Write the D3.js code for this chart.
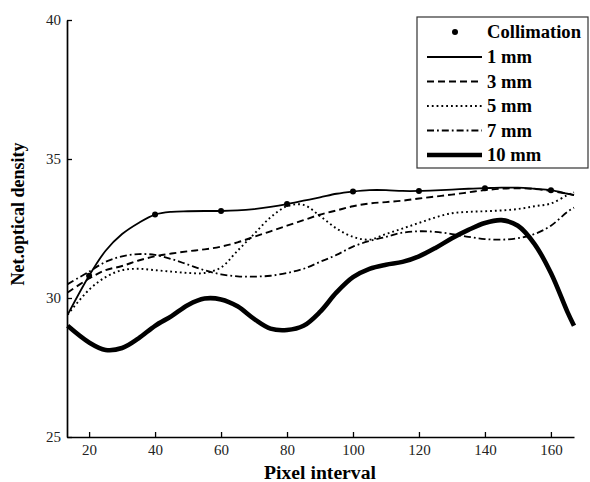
<!DOCTYPE html>
<html>
<head>
<meta charset="utf-8">
<script src="https://cdn.jsdelivr.net/npm/d3@7"></script>
<style>
  body { margin: 0; background: #fff; }
  .tick text { font-family: "Liberation Serif", serif; font-size: 15px; fill: #222; }
  .axisText { font-family: "Liberation Serif", serif; font-weight: bold; font-size: 18px; fill: #000; }
  .legendText { font-family: "Liberation Serif", serif; font-weight: bold; font-size: 18.6px; fill: #000; }
</style>
</head>
<body>
<div id="chart"></div>
<script>
// data
var pixelX = [13.5, 20, 25, 30, 35, 40, 45, 50, 55, 60, 65, 70, 75, 80, 85, 90, 95, 100,
              105, 110, 115, 120, 125, 130, 135, 140, 145, 150, 155, 160, 165, 167];

var mm1 = [29.4, 30.8, 31.7, 32.3, 32.7, 33.0, 33.1, 33.12, 33.13, 33.13, 33.15, 33.2, 33.28, 33.38, 33.5, 33.62, 33.75, 33.83,
           33.88, 33.88, 33.85, 33.85, 33.87, 33.9, 33.93, 33.95, 33.97, 33.97, 33.93, 33.88, 33.75, 33.7];
var mm3 = [30.2, 30.7, 31.0, 31.15, 31.35, 31.5, 31.6, 31.68, 31.75, 31.85, 32.0, 32.2, 32.4, 32.6, 32.8, 33.0, 33.15, 33.3,
           33.4, 33.45, 33.5, 33.58, 33.65, 33.72, 33.8, 33.88, 33.93, 33.95, 33.92, 33.85, 33.75, 33.7];
var mm5 = [29.4, 30.3, 30.75, 31.0, 31.05, 31.0, 30.95, 30.9, 30.9, 31.1, 31.7, 32.3, 32.9, 33.3, 33.35, 32.95, 32.5, 32.2,
           32.1, 32.3, 32.5, 32.7, 32.9, 33.05, 33.1, 33.12, 33.15, 33.2, 33.3, 33.4, 33.7, 33.8];
var mm7 = [30.5, 30.95, 31.3, 31.5, 31.58, 31.55, 31.4, 31.2, 31.0, 30.85, 30.78, 30.77, 30.8, 30.9, 31.05, 31.3, 31.55, 31.85,
           32.05, 32.2, 32.35, 32.4, 32.38, 32.3, 32.2, 32.12, 32.1, 32.15, 32.3, 32.6, 33.1, 33.25];
var mm10 = [29.0, 28.4, 28.13, 28.2, 28.55, 29.0, 29.35, 29.75, 29.98, 29.95, 29.7, 29.25, 28.9, 28.85, 29.0, 29.5, 30.2, 30.75,
            31.05, 31.2, 31.3, 31.5, 31.8, 32.15, 32.45, 32.7, 32.8, 32.6, 31.95, 30.9, 29.5, 29.0];

// collimation markers sit on the 1 mm curve
var collX = [20, 40, 60, 80, 100, 120, 140, 160];
var collY = [30.8, 33.0, 33.13, 33.38, 33.83, 33.85, 33.95, 33.88];

var xTicks = [20, 40, 60, 80, 100, 120, 140, 160];
var yTicks = [25, 30, 35, 40];

var seriesNames = ['1 mm', '3 mm', '5 mm', '7 mm', '10 mm'];
var seriesValues = [mm1, mm3, mm5, mm7, mm10];
var seriesDash = ['none', '7,4', '1.8,3', '7,3,1.8,3', 'none'];
var seriesWidth = [1.8, 1.9, 1.9, 1.8, 4.6];

// set up chart
var svgWidth = 590;
var svgHeight = 482;

var svg = d3.select('#chart')
  .append('svg')
  .attr('width', svgWidth)
  .attr('height', svgHeight);

var xScale = d3.scaleLinear()
  .domain([13.3, 167])
  .range([67, 574]);

var yScale = d3.scaleLinear()
  .domain([25, 40])
  .range([437, 20]);

// axes
var bottomAxis = d3.axisBottom(xScale)
  .tickValues(xTicks)
  .tickSizeInner(-5)
  .tickSizeOuter(0)
  .tickPadding(7);

var leftAxis = d3.axisLeft(yScale)
  .tickValues(yTicks)
  .tickSizeInner(-5)
  .tickSizeOuter(0)
  .tickPadding(6);

var gx = svg.append('g')
  .attr('transform', 'translate(0, 437)')
  .call(bottomAxis);

var gy = svg.append('g')
  .attr('transform', 'translate(67, 0)')
  .call(leftAxis);

[gx, gy].forEach(function(g) {
  g.select('.domain').attr('stroke', '#000').attr('stroke-width', 1.7);
  g.selectAll('.tick line').attr('stroke', '#000').attr('stroke-width', 1.3);
});

// curves
var line = d3.line()
  .x(function(d) { return xScale(d[0]); })
  .y(function(d) { return yScale(d[1]); })
  .curve(d3.curveCatmullRom.alpha(0.5));

seriesValues.forEach(function(vals, i) {
  var pts = pixelX.map(function(x, j) { return [x, vals[j]]; });
  svg.append('path')
    .datum(pts)
    .attr('d', line)
    .attr('fill', 'none')
    .attr('stroke', '#000')
    .attr('stroke-width', seriesWidth[i])
    .attr('stroke-dasharray', seriesDash[i]);
});

svg.append('g').selectAll('circle')
  .data(collX)
  .enter()
  .append('circle')
  .attr('cx', function(d) { return xScale(d); })
  .attr('cy', function(d, i) { return yScale(collY[i]); })
  .attr('r', 3)
  .attr('fill', '#000');

// axis labels
svg.append('text')
  .attr('class', 'axisText')
  .attr('x', 320)
  .attr('y', 479)
  .attr('text-anchor', 'middle')
  .attr('textLength', 112)
  .attr('lengthAdjust', 'spacingAndGlyphs')
  .text('Pixel interval');

svg.append('text')
  .attr('class', 'axisText')
  .attr('transform', 'translate(24, 214) rotate(-90)')
  .attr('text-anchor', 'middle')
  .text('Net.optical density');

// legend
var legend = svg.append('g');

legend.append('rect')
  .attr('x', 417)
  .attr('y', 17)
  .attr('width', 171)
  .attr('height', 151)
  .attr('fill', '#fff')
  .attr('stroke', '#333')
  .attr('stroke-width', 1.2);

legend.append('circle')
  .attr('cx', 455)
  .attr('cy', 32)
  .attr('r', 3)
  .attr('fill', '#000');

legend.append('text')
  .attr('class', 'legendText')
  .attr('x', 487)
  .attr('y', 38)
  .text('Collimation');

seriesNames.forEach(function(name, i) {
  var yy = 63 + i * 24.5;
  legend.append('line')
    .attr('x1', 427)
    .attr('x2', 482)
    .attr('y1', yy - 6)
    .attr('y2', yy - 6)
    .attr('stroke', '#000')
    .attr('stroke-width', seriesWidth[i])
    .attr('stroke-dasharray', seriesDash[i]);
  legend.append('text')
    .attr('class', 'legendText')
    .attr('x', 487)
    .attr('y', yy)
    .text(name);
});
</script>
</body>
</html>
